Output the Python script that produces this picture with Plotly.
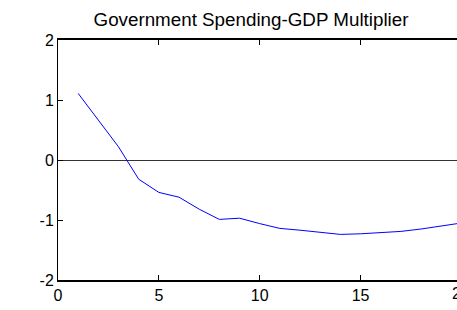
import plotly.graph_objects as go

periods = list(range(1, 21))
multiplier = [1.11, 0.66, 0.22, -0.32, -0.54, -0.62, -0.82, -0.99, -0.97, -1.06,
              -1.14, -1.17, -1.21, -1.24, -1.23, -1.21, -1.19, -1.15, -1.10, -1.05]
xtick_vals = [0, 5, 10, 15, 20]
ytick_vals = [-2, -1, 0, 1, 2]
title_text = "Government Spending-GDP Multiplier"

FONT = "Arial, Liberation Sans, sans-serif"

fig = go.Figure()
fig.add_trace(go.Scatter(x=periods, y=multiplier, mode="lines",
                         line=dict(color="#0000FF", width=1), showlegend=False,
                         hoverinfo="skip"))

W, H = 457, 310
L, T, B = 58, 40, 30
plot_w = W - L
px_per_unit = 20.17          # the axes' right end (x = 20) lies just past the window edge
xmax = plot_w / px_per_unit

fig.update_layout(
    width=W, height=H, autosize=False,
    margin=dict(l=L, r=0, t=T, b=B, pad=0),
    paper_bgcolor="white", plot_bgcolor="white",
    font=dict(family=FONT, size=16, color="black"),
    title=dict(text=title_text, x=251 / W, xref="container", xanchor="center",
               y=1 - 19.5 / H, yref="container", yanchor="middle",
               font=dict(family=FONT, size=18.8, color="black")),
    xaxis=dict(range=[0, xmax], tickvals=[v for v in xtick_vals if v <= xmax],
               ticktext=[str(v) for v in xtick_vals if v <= xmax],
               ticks="inside", ticklen=5, tickcolor="black", tickwidth=1,
               showline=True, linecolor="black", linewidth=1.5, mirror="ticks",
               showgrid=False, zeroline=False, tickfont=dict(size=16)),
    yaxis=dict(range=[-2, 2], tickvals=ytick_vals, ticktext=[str(v) for v in ytick_vals],
               ticks="inside", ticklen=5, tickcolor="black", tickwidth=1,
               showline=True, linecolor="black", linewidth=1, mirror=False,
               showgrid=False, zeroline=True, zerolinecolor="#333333", zerolinewidth=1.2,
               tickfont=dict(size=16)),
)

# tick label(s) beyond the visible right edge, partially clipped as in the reference
for v in xtick_vals:
    if v > xmax:
        fig.add_annotation(text=str(v), x=(v * px_per_unit) / plot_w, xref="paper",
                           xanchor="center", y=0, yref="paper", yanchor="top", yshift=-3,
                           showarrow=False, font=dict(family=FONT, size=16, color="black"))

fig.write_html("out.html", config={"displayModeBar": False},
               post_script="document.body.style.margin='0';"
                           "document.body.style.overflow='hidden';")
